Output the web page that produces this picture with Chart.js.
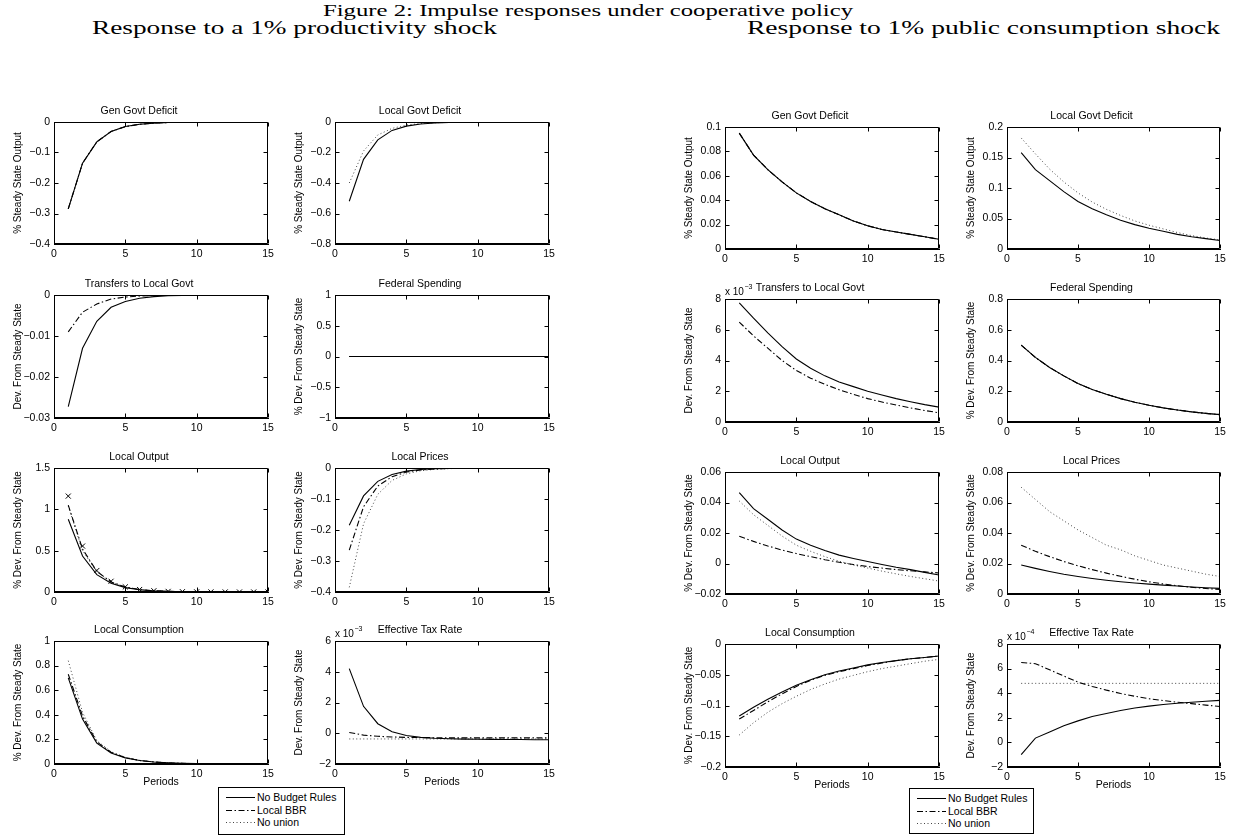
<!DOCTYPE html>
<html><head><meta charset="utf-8">
<script src="https://cdn.jsdelivr.net/npm/chart.js@4.4.1/dist/chart.umd.min.js"></script>
<style>
html,body{margin:0;padding:0;background:#fff;}
body{width:1235px;height:837px;position:relative;overflow:hidden;font-family:"Liberation Sans",Arial,sans-serif;color:#000;}
canvas{position:absolute;}
.hd{position:absolute;font-family:"Liberation Serif","Times New Roman",serif;white-space:nowrap;line-height:1;transform-origin:0 0;color:#000;}
.legend{position:absolute;border:1px solid #000;background:#fff;font-size:10.5px;box-sizing:border-box;}
.legend .row{position:absolute;left:0;height:12px;line-height:12px;white-space:nowrap;}
.legend svg{position:absolute;left:7px;top:0;}
.legend span{position:absolute;left:38px;top:0;}
</style></head><body>
<div class="hd" id="h0" style="left:323px;top:2px;font-size:17px;">Figure 2: Impulse responses under cooperative policy</div>
<div class="hd" id="h1" style="left:92px;top:18px;font-size:19px;">Response to a 1% productivity shock</div>
<div class="hd" id="h2" style="left:747px;top:18px;font-size:19px;">Response to 1% public consumption shock</div>
<script>
// ---------- data ----------
const periods = [1,2,3,4,5,6,7,8,9,10,11,12,13,14,15];
const seriesNames = ['No Budget Rules','Local BBR','No union'];

// Response to a 1% productivity shock
const prodGenDefNoRules  = [-0.285,-0.135,-0.065,-0.031,-0.015,-0.0075,-0.0037,-0.0018,-0.0009,-0.0004,-0.0002,-0.0001,0,0,0];
const prodGenDefBBR      = [-0.285,-0.135,-0.065,-0.031,-0.015,-0.0075,-0.0037,-0.0018,-0.0009,-0.0004,-0.0002,-0.0001,0,0,0];
const prodGenDefNoUnion  = [-0.285,-0.135,-0.065,-0.031,-0.015,-0.0075,-0.0037,-0.0018,-0.0009,-0.0004,-0.0002,-0.0001,0,0,0];

const prodLocDefNoRules  = [-0.52,-0.245,-0.117,-0.055,-0.027,-0.013,-0.0065,-0.0032,-0.0016,-0.0008,-0.0004,-0.0002,-0.0001,0,0];
const prodLocDefBBR      = [0,0,0,0,0,0,0,0,0,0,0,0,0,0,0];
const prodLocDefNoUnion  = [-0.40,-0.19,-0.085,-0.042,-0.02,-0.01,-0.005,-0.0025,-0.0012,-0.0006,-0.0003,-0.0001,0,0,0];

const prodTransNoRules   = [-0.0272,-0.013,-0.0064,-0.003,-0.0016,-0.0008,-0.0004,-0.0002,-0.0001,0,0,0,0,0,0];
const prodTransBBR       = [-0.009,-0.0042,-0.0022,-0.001,-0.0005,-0.00025,-0.00012,-0.00006,0,0,0,0,0,0,0];
const prodTransNoUnion   = [0,0,0,0,0,0,0,0,0,0,0,0,0,0,0];

const prodFedNoRules     = [0,0,0,0,0,0,0,0,0,0,0,0,0,0,0];
const prodFedBBR         = [0,0,0,0,0,0,0,0,0,0,0,0,0,0,0];
const prodFedNoUnion     = [0,0,0,0,0,0,0,0,0,0,0,0,0,0,0];

const prodOutNoRules     = [0.88,0.435,0.21,0.105,0.053,0.027,0.014,0.007,0.0035,0.0018,0.0009,0.0005,0.0002,0.0001,0];
const prodOutBBR         = [1.05,0.52,0.25,0.122,0.06,0.03,0.015,0.0075,0.0037,0.0019,0.0009,0.0005,0.0002,0.0001,0];
const prodOutNoUnion     = [1.04,0.50,0.245,0.12,0.059,0.029,0.014,0.007,0.0035,0.0017,0.0009,0.0004,0.0002,0.0001,0];
const prodOutMarkers     = [1.16,0.556,0.26,0.13,0.062,0.03,0.015,0.0075,0.0037,0.0019,0.001,0.0005,0.0002,0.0001,0];

const prodPriceNoRules   = [-0.185,-0.09,-0.043,-0.021,-0.01,-0.005,-0.0024,-0.0012,-0.0006,-0.0003,-0.0001,0,0,0,0];
const prodPriceBBR       = [-0.265,-0.125,-0.058,-0.028,-0.013,-0.0063,-0.003,-0.0015,-0.0007,-0.0003,-0.0002,-0.0001,0,0,0];
const prodPriceNoUnion   = [-0.385,-0.18,-0.085,-0.04,-0.019,-0.009,-0.0043,-0.002,-0.001,-0.0005,-0.0002,-0.0001,0,0,0];

const prodConsNoRules    = [0.70,0.365,0.17,0.09,0.05,0.028,0.016,0.009,0.005,0.003,0.0017,0.001,0.0005,0.0003,0.0002];
const prodConsBBR        = [0.73,0.39,0.18,0.095,0.052,0.029,0.016,0.009,0.005,0.003,0.0017,0.001,0.0005,0.0003,0.0002];
const prodConsNoUnion    = [0.84,0.42,0.19,0.10,0.054,0.03,0.017,0.0095,0.0053,0.003,0.0017,0.001,0.0005,0.0003,0.0002];

// Effective tax rate, in units of 10^-3
const prodTaxNoRules     = [4.2,1.75,0.62,0.1,-0.15,-0.27,-0.33,-0.36,-0.38,-0.39,-0.4,-0.41,-0.41,-0.42,-0.42];
const prodTaxBBR         = [0.05,-0.12,-0.2,-0.24,-0.27,-0.28,-0.29,-0.3,-0.3,-0.3,-0.3,-0.3,-0.3,-0.3,-0.3];
const prodTaxNoUnion     = [-0.37,-0.37,-0.37,-0.37,-0.37,-0.37,-0.37,-0.37,-0.37,-0.37,-0.37,-0.37,-0.37,-0.37,-0.37];

// Response to 1% public consumption shock
const pubGenDefNoRules   = [0.095,0.077,0.065,0.055,0.046,0.039,0.033,0.028,0.023,0.019,0.016,0.014,0.012,0.010,0.008];
const pubGenDefBBR       = [0.095,0.077,0.065,0.055,0.046,0.039,0.033,0.028,0.023,0.019,0.016,0.014,0.012,0.010,0.008];
const pubGenDefNoUnion   = [0.095,0.077,0.065,0.055,0.046,0.039,0.033,0.028,0.023,0.019,0.016,0.014,0.012,0.010,0.008];

const pubLocDefNoRules   = [0.158,0.130,0.112,0.094,0.078,0.066,0.056,0.047,0.040,0.034,0.029,0.024,0.020,0.017,0.014];
const pubLocDefBBR       = [0,0,0,0,0,0,0,0,0,0,0,0,0,0,0];
const pubLocDefNoUnion   = [0.182,0.156,0.131,0.110,0.092,0.077,0.065,0.055,0.046,0.039,0.033,0.027,0.022,0.018,0.015];

// Transfers, in units of 10^-3
const pubTransNoRules    = [7.75,6.75,5.8,4.9,4.1,3.5,3.0,2.6,2.3,2.0,1.75,1.52,1.32,1.13,0.97];
const pubTransBBR        = [6.5,5.6,4.8,4.0,3.35,2.85,2.45,2.1,1.8,1.52,1.3,1.1,0.92,0.75,0.6];
const pubTransNoUnion    = [0,0,0,0,0,0,0,0,0,0,0,0,0,0,0];

const pubFedNoRules      = [0.50,0.42,0.355,0.30,0.25,0.212,0.18,0.152,0.129,0.109,0.092,0.078,0.066,0.056,0.048];
const pubFedBBR          = [0.50,0.42,0.355,0.30,0.25,0.212,0.18,0.152,0.129,0.109,0.092,0.078,0.066,0.056,0.048];
const pubFedNoUnion      = [0.50,0.42,0.355,0.30,0.25,0.212,0.18,0.152,0.129,0.109,0.092,0.078,0.066,0.056,0.048];

const pubOutNoRules      = [0.0465,0.036,0.029,0.022,0.016,0.012,0.0085,0.0055,0.0033,0.0013,-0.0007,-0.0025,-0.004,-0.0058,-0.0075];
const pubOutBBR          = [0.0178,0.0145,0.0115,0.0088,0.0065,0.0045,0.0025,0.0008,-0.0007,-0.002,-0.003,-0.004,-0.0048,-0.0055,-0.0062];
const pubOutNoUnion      = [0.041,0.032,0.025,0.018,0.012,0.008,0.0045,0.0015,-0.001,-0.003,-0.005,-0.0068,-0.0085,-0.010,-0.0115];

const pubPriceNoRules    = [0.019,0.0168,0.0148,0.013,0.0115,0.0102,0.009,0.008,0.0072,0.0065,0.0058,0.0052,0.0046,0.0041,0.0037];
const pubPriceBBR        = [0.032,0.028,0.0245,0.0213,0.0185,0.016,0.0137,0.0116,0.0097,0.008,0.0066,0.0054,0.0044,0.0036,0.003];
const pubPriceNoUnion    = [0.070,0.062,0.054,0.048,0.042,0.037,0.032,0.029,0.025,0.022,0.019,0.017,0.015,0.013,0.0115];

const pubConsNoRules     = [-0.117,-0.103,-0.09,-0.078,-0.067,-0.058,-0.050,-0.044,-0.039,-0.034,-0.030,-0.027,-0.024,-0.022,-0.0195];
const pubConsBBR         = [-0.122,-0.108,-0.094,-0.081,-0.069,-0.059,-0.051,-0.045,-0.040,-0.035,-0.031,-0.027,-0.024,-0.022,-0.0195];
const pubConsNoUnion     = [-0.148,-0.128,-0.111,-0.097,-0.085,-0.074,-0.065,-0.057,-0.051,-0.045,-0.040,-0.036,-0.032,-0.028,-0.025];

// Effective tax rate, in units of 10^-4
const pubTaxNoRules      = [-1.0,0.35,0.85,1.35,1.75,2.1,2.35,2.6,2.8,2.95,3.08,3.18,3.27,3.35,3.42];
const pubTaxBBR          = [6.5,6.4,5.9,5.4,4.9,4.55,4.25,3.98,3.75,3.55,3.4,3.27,3.15,3.03,2.92];
const pubTaxNoUnion      = [4.8,4.8,4.8,4.8,4.8,4.8,4.8,4.8,4.8,4.8,4.8,4.8,4.8,4.8,4.8];

// ---------- layout ----------
const FONT = '"Liberation Sans", Arial, Helvetica, sans-serif';
const lc = [54, 335], rc = [725, 1007];
const lr = [122, 295, 468, 641], rr = [127, 299, 472, 644];
const YL1 = '% Steady State Output', YL2 = 'Dev. From Steady State', YL3 = '% Dev. From Steady State';

const panels = [
 {L:lc[0],T:lr[0],W:214,H:122,title:'Gen Govt Deficit',yl:YL1,min:-0.4,max:0,step:0.1,d:[prodGenDefNoRules,prodGenDefBBR,prodGenDefNoUnion]},
 {L:lc[1],T:lr[0],W:214,H:122,title:'Local Govt Deficit',yl:YL1,min:-0.8,max:0,step:0.2,d:[prodLocDefNoRules,prodLocDefBBR,prodLocDefNoUnion]},
 {L:lc[0],T:lr[1],W:214,H:123,title:'Transfers to Local Govt',yl:YL2,min:-0.03,max:0,step:0.01,d:[prodTransNoRules,prodTransBBR,prodTransNoUnion]},
 {L:lc[1],T:lr[1],W:214,H:123,title:'Federal Spending',yl:YL3,min:-1,max:1,step:0.5,d:[prodFedNoRules,prodFedBBR,prodFedNoUnion]},
 {L:lc[0],T:lr[2],W:214,H:124,title:'Local Output',yl:YL3,min:0,max:1.5,step:0.5,d:[prodOutNoRules,prodOutBBR,prodOutNoUnion],mk:prodOutMarkers},
 {L:lc[1],T:lr[2],W:214,H:124,title:'Local Prices',yl:YL3,min:-0.4,max:0,step:0.1,d:[prodPriceNoRules,prodPriceBBR,prodPriceNoUnion]},
 {L:lc[0],T:lr[3],W:214,H:123,title:'Local Consumption',yl:YL3,min:0,max:1,step:0.2,d:[prodConsNoRules,prodConsBBR,prodConsNoUnion],xl:'Periods'},
 {L:lc[1],T:lr[3],W:214,H:123,title:'Effective Tax Rate',yl:YL2,min:-2,max:6,step:2,exp:'\u22123',d:[prodTaxNoRules,prodTaxBBR,prodTaxNoUnion],xl:'Periods'},

 {L:rc[0],T:rr[0],W:214,H:122,title:'Gen Govt Deficit',yl:YL1,min:0,max:0.1,step:0.02,d:[pubGenDefNoRules,pubGenDefBBR,pubGenDefNoUnion]},
 {L:rc[1],T:rr[0],W:213,H:122,title:'Local Govt Deficit',yl:YL1,min:0,max:0.2,step:0.05,d:[pubLocDefNoRules,pubLocDefBBR,pubLocDefNoUnion]},
 {L:rc[0],T:rr[1],W:214,H:123,title:'Transfers to Local Govt',yl:YL2,min:0,max:8,step:2,exp:'\u22123',d:[pubTransNoRules,pubTransBBR,pubTransNoUnion]},
 {L:rc[1],T:rr[1],W:213,H:123,title:'Federal Spending',yl:YL3,min:0,max:0.8,step:0.2,d:[pubFedNoRules,pubFedBBR,pubFedNoUnion]},
 {L:rc[0],T:rr[2],W:214,H:122,title:'Local Output',yl:YL3,min:-0.02,max:0.06,step:0.02,d:[pubOutNoRules,pubOutBBR,pubOutNoUnion]},
 {L:rc[1],T:rr[2],W:213,H:122,title:'Local Prices',yl:YL3,min:0,max:0.08,step:0.02,d:[pubPriceNoRules,pubPriceBBR,pubPriceNoUnion]},
 {L:rc[0],T:rr[3],W:214,H:123,title:'Local Consumption',yl:YL3,min:-0.2,max:0,step:0.05,d:[pubConsNoRules,pubConsBBR,pubConsNoUnion],xl:'Periods'},
 {L:rc[1],T:rr[3],W:213,H:123,title:'Effective Tax Rate',yl:YL2,min:-2,max:8,step:2,exp:'\u22124',d:[pubTaxNoRules,pubTaxBBR,pubTaxNoUnion],xl:'Periods'},
];

const styles = [
  {borderColor:'#000', borderWidth:1.1, borderDash:[]},
  {borderColor:'#000', borderWidth:1.1, borderDash:[6,2.5,1.5,2.5]},
  {borderColor:'#444', borderWidth:1, borderDash:[1,2.5]},
];

function fmt(v){
  const s = (Math.round(v*1e6)/1e6).toString();
  return s.replace('-', '\u2212');
}

// MATLAB-style box with inward ticks on all four sides
const framePlugin = {
  id:'matlabBox',
  afterDraw(chart, args, opts){
    const ctx = chart.ctx, ca = chart.chartArea, sx = chart.scales.x, sy = chart.scales.y;
    const l = Math.round(ca.left) + 0.5, t = Math.round(ca.top) + 0.5;
    const r = Math.round(ca.right) - 0.5, b = Math.round(ca.bottom) - 0.5;
    const tl = 4;
    ctx.save();
    ctx.setLineDash([]);
    ctx.strokeStyle = '#000';
    ctx.lineWidth = 1;
    ctx.beginPath();
    // box edges
    ctx.moveTo(l, t); ctx.lineTo(r, t);
    ctx.moveTo(r, t); ctx.lineTo(r, b);
    ctx.moveTo(r, b); ctx.lineTo(l, b);
    ctx.moveTo(l, b); ctx.lineTo(l, t);
    sx.ticks.forEach(tk => {
      const px = Math.round(sx.getPixelForValue(tk.value)) + 0.5;
      ctx.moveTo(px, b); ctx.lineTo(px, b - tl);
      ctx.moveTo(px, t); ctx.lineTo(px, t + tl);
    });
    sy.ticks.forEach(tk => {
      const py = Math.round(sy.getPixelForValue(tk.value)) + 0.5;
      ctx.moveTo(l, py); ctx.lineTo(l + tl, py);
      ctx.moveTo(r, py); ctx.lineTo(r - tl, py);
    });
    ctx.stroke();
    if (opts && opts.exp) {
      ctx.fillStyle = '#000';
      ctx.font = '10px ' + FONT;
      ctx.textAlign = 'left'; ctx.textBaseline = 'alphabetic';
      const base = 'x 10';
      ctx.fillText(base, ca.left, ca.top - 4);
      const w = ctx.measureText(base).width;
      ctx.font = '7px ' + FONT;
      ctx.fillText(opts.exp, ca.left + w + 0.5, ca.top - 10);
    }
    ctx.restore();
  }
};

const YW = 44, XH = 24, TOPH = 22, RP = 14;

panels.forEach((p, idx) => {
  const cv = document.createElement('canvas');
  cv.width = YW + p.W + RP;
  cv.height = TOPH + p.H + XH;
  cv.style.left = (p.L - YW) + 'px';
  cv.style.top = (p.T - TOPH) + 'px';
  document.body.appendChild(cv);

  const datasets = p.d.map((arr, i) => Object.assign({
    label: seriesNames[i],
    data: periods.map((x, k) => ({x, y: arr[k]})),
    pointRadius: 0, fill: false, tension: 0,
  }, styles[i]));
  if (p.mk) {
    datasets.push({
      label: 'markers',
      data: periods.map((x, k) => ({x, y: p.mk[k]})),
      showLine: false, pointStyle: 'crossRot', pointRadius: 3.6,
      borderColor: '#000', borderWidth: 1, backgroundColor: '#000'
    });
  }

  new Chart(cv, {
    type: 'line',
    data: { datasets },
    options: {
      responsive: false, animation: false, devicePixelRatio: 1,
      layout: { padding: { left: 0, right: RP, top: 0, bottom: 0 } },
      plugins: {
        legend: { display: false },
        tooltip: { enabled: false },
        title: { display: true, text: p.title, color: '#000',
                 font: { family: FONT, size: 10.5, weight: 'normal', lineHeight: '12px' },
                 padding: { top: 5, bottom: 5 } },
        matlabBox: { exp: p.exp || null }
      },
      scales: {
        x: {
          type: 'linear', min: 0, max: 15,
          grid: { display: false, drawTicks: false },
          border: { display: true, color: '#000', width: 1 },
          ticks: { stepSize: 5, padding: 4, color: '#000', maxRotation: 0, autoSkip: false,
                   font: { family: FONT, size: 10.5 }, callback: v => fmt(v) },
          title: { display: !!p.xl, text: p.xl || '', color: '#000',
                   font: { family: FONT, size: 10.5, lineHeight: '12px' }, padding: { top: 0, bottom: 0 } },
          afterFit: s => { s.height = XH; s.paddingLeft = 0; s.paddingRight = 0; }
        },
        y: {
          type: 'linear', min: p.min, max: p.max,
          grid: { display: false, drawTicks: false },
          border: { display: true, color: '#000', width: 1 },
          ticks: { stepSize: p.step, padding: 4, color: '#000', autoSkip: false,
                   font: { family: FONT, size: 10.5 }, callback: v => fmt(v) },
          title: { display: true, text: p.yl, color: '#000',
                   font: { family: FONT, size: 10, lineHeight: '12px' }, padding: { top: 2, bottom: 0 } },
          afterFit: s => { s.width = YW; s.paddingTop = 0; s.paddingBottom = 0; }
        }
      }
    },
    plugins: [framePlugin]
  });
});

// ---------- legends ----------
function legend(left, top, width, height) {
  const box = document.createElement('div');
  box.className = 'legend';
  Object.assign(box.style, {left: left+'px', top: top+'px', width: width+'px', height: height+'px'});
  const dashes = ['', '6 2.5 1.5 2.5', '1 2.5'];
  const cols = ['#000', '#000', '#444'];
  seriesNames.forEach((n, i) => {
    const row = document.createElement('div');
    row.className = 'row';
    row.style.top = (3 + i*12.5) + 'px';
    row.style.width = '100%';
    row.innerHTML = '<svg width="30" height="12"><line x1="0" y1="6.5" x2="29" y2="6.5" stroke="'+cols[i]+'" stroke-width="1" '+(dashes[i]?'stroke-dasharray="'+dashes[i]+'"':'')+'/></svg><span>'+n+'</span>';
    box.appendChild(row);
  });
  document.body.appendChild(box);
}
legend(218, 787, 127, 48);
legend(909, 788, 125, 46);

// ---------- fit headings to the reference widths ----------
[['h0',530],['h1',405],['h2',473]].forEach(([id, w]) => {
  const el = document.getElementById(id);
  const cw = el.getBoundingClientRect().width;
  el.style.transform = 'scaleX(' + (w / cw) + ')';
});
</script>
</body></html>
